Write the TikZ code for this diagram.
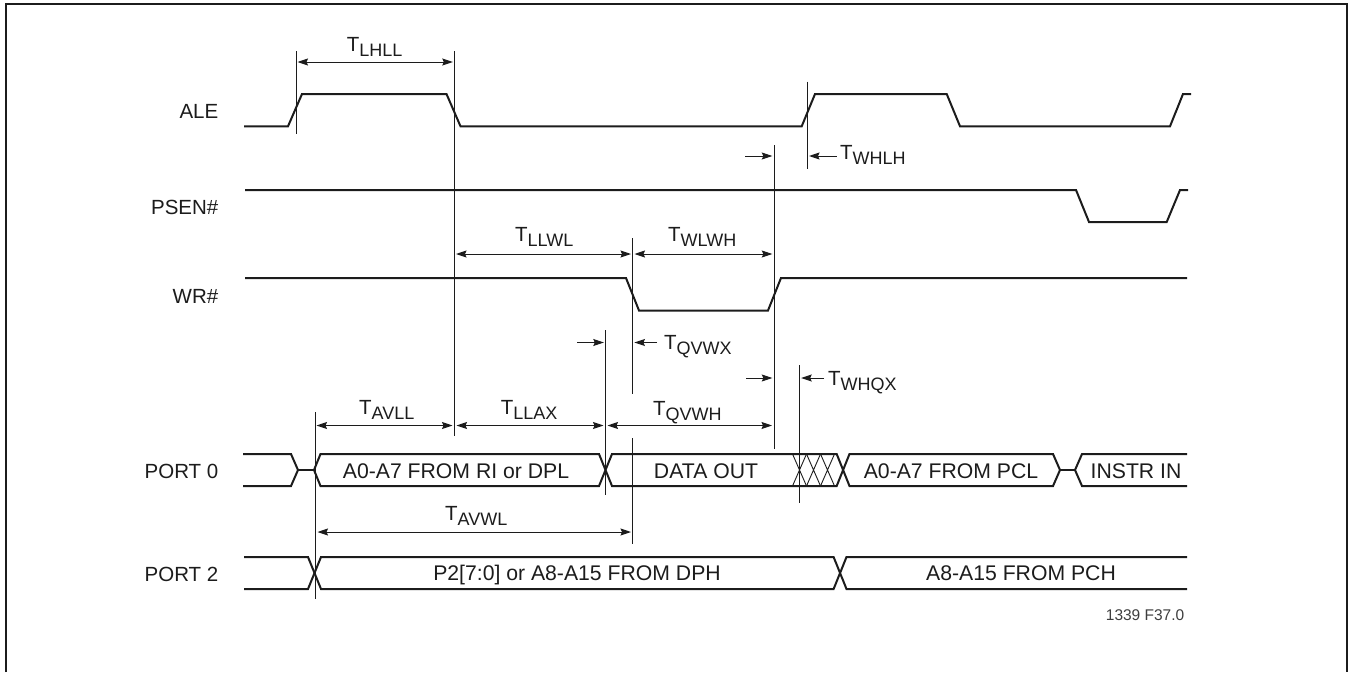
\documentclass[tikz,border=0pt]{standalone}
\usepackage{fontspec}
\setmainfont{Liberation Sans}
\usetikzlibrary{arrows.meta}
\definecolor{ink}{HTML}{1C1C1C}
\newcommand{\tsub}[1]{T\raisebox{-5pt}{\fontsize{18}{18}\selectfont #1}}
\tikzset{
  wave/.style={draw=ink,line width=2pt,line join=miter},
  guide/.style={draw=ink,line width=1pt},
  hatch/.style={draw=ink,line width=0.9pt},
  tip/.tip={Stealth[length=10.5pt,width=7pt,inset=1.5pt]},
  dim/.style={draw=ink,line width=1pt,tip-tip,shorten >=1pt,shorten <=1pt},
  dimto/.style={draw=ink,line width=1pt,-tip,shorten >=1pt},
  sig/.style={font=\fontsize{20.5}{21}\selectfont,text=ink,anchor=base east,inner sep=0pt},
  bus/.style={font=\fontsize{21.2}{22}\selectfont,text=ink,anchor=base,inner sep=0pt},
  timing/.style={font=\fontsize{20.5}{21}\selectfont,text=ink,anchor=base west,inner sep=0pt},
}
\begin{document}
\begin{tikzpicture}[x=1pt,y=-1pt]
\useasboundingbox (0,0) rectangle (1348,672);
% frame
\draw[ink,line width=2pt] (6,672) -- (6,4) -- (1347,4) -- (1347,672);
% signal names
\node[sig] (ale) at (218.5,118) {ALE};
\node[sig] (psen) at (218.5,214) {PSEN\#};
\node[sig] (wr) at (218.5,303) {WR\#};
\node[sig] (p0) at (218.5,478) {PORT 0};
\node[sig] (p2) at (218.5,581) {PORT 2};
% waveforms
\draw[wave] (244,126.3) -- (288,126.3) -- (302,94) -- (446.5,94) -- (460.5,126.3) -- (801.7,126.3) -- (815,94) -- (946.7,94) -- (960,126.3) -- (1170,126.3) -- (1183,94) -- (1191,94);
\draw[wave] (245,190) -- (1076,190) -- (1089,222) -- (1166.7,222) -- (1180,190) -- (1188,190);
\draw[wave] (245,278) -- (626,278) -- (639,310.5) -- (768,310.5) -- (781,278) -- (1187,278);
% port 0
\draw[wave] (243,454) -- (291,454) -- (298,470) -- (291,486) -- (243,486);
\draw[wave] (298,470) -- (314,470);
\draw[wave] (1187,454) -- (1082,454) -- (1075,470) -- (1082,486) -- (1187,486);
\draw[wave] (1075,470) -- (1060,470);
\draw[wave] (320.5,454) -- (314,470) -- (320.5,486) -- (599,486) -- (612,454) -- (836.7,454) -- (849.5,486) -- (1053,486) -- (1060,470) -- (1053,454) -- (849.5,454) -- (836.7,486) -- (612,486) -- (599,454) -- cycle;
\foreach \c in {799.5,813.5,827.5}{
  \draw[hatch] (\c-7,454) -- (\c+7,486) (\c-7,486) -- (\c+7,454);
}
% port 2
\draw[wave] (244,557) -- (308,557) -- (321,589) -- (833.6,589) -- (846.5,557) -- (1187,557);
\draw[wave] (244,589) -- (308,589) -- (321,557) -- (833.6,557) -- (846.5,589) -- (1187,589);
% bus texts
\node[bus] (t1) at (456,478.5) {A0-A7 FROM RI or DPL};
\node[bus] (t2) at (706,478.5) {DATA OUT};
\node[bus] (t3) at (951,478.5) {A0-A7 FROM PCL};
\node[bus] (t4) at (1136,478.5) {INSTR IN};
\node[bus] (t5) at (577,580.5) {P2[7:0] or A8-A15 FROM DPH};
\node[bus] (t6) at (1021,580.5) {A8-A15 FROM PCH};
% guide coordinates
\coordinate (g1t) at (296,51);   \coordinate (g1b) at (296,134);
\coordinate (g2t) at (454.3,51); \coordinate (g2b) at (454.3,436);
\coordinate (g3t) at (807.3,81.7); \coordinate (g3b) at (807.3,169);
\coordinate (g4t) at (774,145);  \coordinate (g4b) at (774,449);
\coordinate (g5t) at (632.7,238); \coordinate (g5b) at (632.7,394);
\coordinate (g6t) at (632.7,438); \coordinate (g6b) at (632.7,544);
\coordinate (g7t) at (605.5,330); \coordinate (g7b) at (605.5,495);
\coordinate (g8t) at (799.5,365); \coordinate (g8b) at (799.5,503);
\coordinate (g9t) at (315,412);  \coordinate (g9b) at (315,599);
\foreach \g in {1,...,9}{ \draw[guide] (g\g t) -- (g\g b); }
% two-headed dimensions
\coordinate (a1) at (296.5,62);  \coordinate (a2) at (453.8,62);
\draw[dim] (a1) -- (a2);
\coordinate (a3) at (455,254);  \coordinate (a4) at (632,254);
\draw[dim] (a3) -- (a4);
\coordinate (a5) at (633.5,254); \coordinate (a6) at (773.3,254);
\draw[dim] (a5) -- (a6);
\coordinate (a7) at (315.5,425.5); \coordinate (a8) at (453.5,425.5);
\draw[dim] (a7) -- (a8);
\coordinate (a9) at (455.5,425.5); \coordinate (a10) at (604.5,425.5);
\draw[dim] (a9) -- (a10);
\coordinate (a11) at (606.5,425.5); \coordinate (a12) at (773,425.5);
\draw[dim] (a11) -- (a12);
\coordinate (a13) at (316.5,532); \coordinate (a14) at (632,532);
\draw[dim] (a13) -- (a14);
% single-headed pointers
\coordinate (b1) at (745,156);   \coordinate (b2) at (773.3,156);
\draw[dimto] (b1) -- (b2);
\coordinate (b3) at (836.7,156); \coordinate (b4) at (808,156);
\draw[dimto] (b3) -- (b4);
\coordinate (b5) at (577,342.5); \coordinate (b6) at (604.8,342.5);
\draw[dimto] (b5) -- (b6);
\coordinate (b7) at (657,342.5); \coordinate (b8) at (633.4,342.5);
\draw[dimto] (b7) -- (b8);
\coordinate (b9) at (746,378);  \coordinate (b10) at (773.3,378);
\draw[dimto] (b9) -- (b10);
\coordinate (b11) at (824,378); \coordinate (b12) at (800.2,378);
\draw[dimto] (b11) -- (b12);
% timing labels
\node[timing] (l1) at (346.7,51.7) {\tsub{LHLL}};
\node[timing] (l2) at (515,241.7) {\tsub{LLWL}};
\node[timing] (l3) at (668,241.7) {\tsub{WLWH}};
\node[timing] (l4) at (840,159) {\tsub{WHLH}};
\node[timing] (l5) at (664,349) {\tsub{QVWX}};
\node[timing] (l6) at (828,385) {\tsub{WHQX}};
\node[timing] (l7) at (653,415) {\tsub{QVWH}};
\node[timing] (l8) at (359,414) {\tsub{AVLL}};
\node[timing] (l9) at (500.7,414) {\tsub{LLAX}};
\node[timing] (l10) at (445,520.7) {\tsub{AVWL}};
% figure code
\node[font=\fontsize{15.5}{16}\selectfont,text=ink!85,anchor=base east,inner sep=0pt] (code) at (1184.5,620.7) {1339 F37.0};
\end{tikzpicture}
\end{document}
